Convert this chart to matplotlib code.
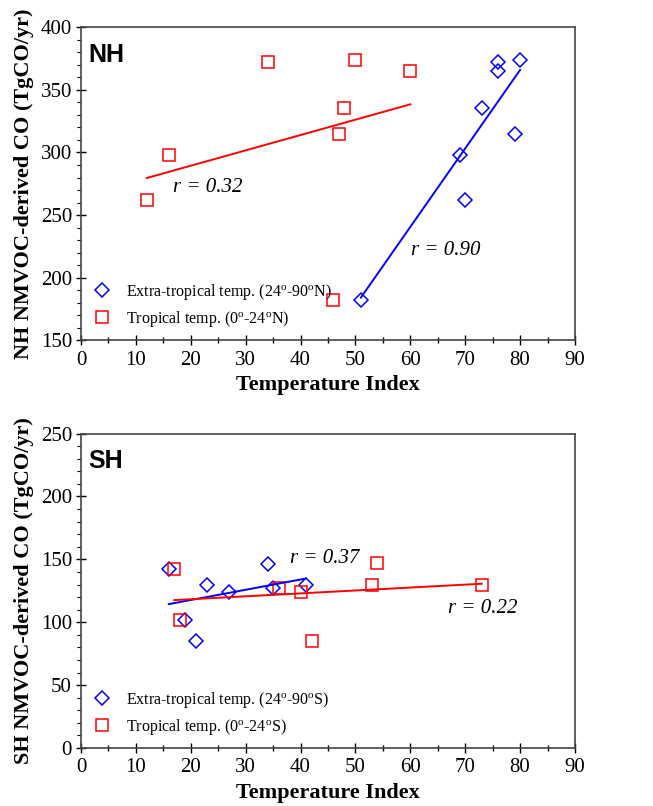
import numpy as np
import matplotlib.pyplot as plt
from matplotlib.ticker import MultipleLocator

# NH data
nh_extra_x = [51, 69, 70, 73, 76, 76, 80, 79]
nh_extra_y = [182, 298, 262, 335.5, 372, 365, 374, 314.5]
nh_trop_x = [12, 16, 34, 50, 60, 48, 47, 46]
nh_trop_y = [262, 298, 372, 374, 365, 335.5, 314.5, 182]
# fitted lines (endpoints)
nh_extra_fit_x = [51, 80]
nh_extra_fit_y = [184, 366]
nh_trop_fit_x = [12, 60]
nh_trop_fit_y = [279.6, 338.5]

# SH data
sh_extra_x = [16, 19, 21, 23, 27, 34, 35, 41]
sh_extra_y = [142, 102, 85, 129.5, 124, 146.7, 127, 130]
sh_trop_x = [17, 18, 36, 40, 42, 53, 54, 73]
sh_trop_y = [142, 102, 127, 124, 85, 130, 147, 129.5]
sh_extra_fit_x = [16, 41]
sh_extra_fit_y = [114.4, 134.8]
sh_trop_fit_x = [17, 73]
sh_trop_fit_y = [117.6, 130.6]

serif = ["Liberation Serif", "DejaVu Serif"]
sans = ["Liberation Sans", "DejaVu Sans"]

plt.rcParams["font.family"] = serif
plt.rcParams["mathtext.fontset"] = "custom"
plt.rcParams["mathtext.rm"] = "Liberation Serif"
plt.rcParams["mathtext.it"] = "Liberation Serif:italic"

fig = plt.figure(figsize=(6.53, 8.06), dpi=100)
ax1 = fig.add_axes([0.124, 0.578, 0.7565, 0.388])
ax2 = fig.add_axes([0.124, 0.072, 0.7565, 0.390])


def style_axes(ax, ylim, ylabel, tag):
    ax.set_xlim(0, 90)
    ax.set_ylim(*ylim)
    ax.xaxis.set_major_locator(MultipleLocator(10))
    ax.xaxis.set_minor_locator(MultipleLocator(5))
    ax.yaxis.set_major_locator(MultipleLocator(50))
    ax.yaxis.set_minor_locator(MultipleLocator(10))
    ax.tick_params(axis="x", which="major", direction="inout", length=7, width=1, labelsize=15, pad=4)
    ax.tick_params(axis="x", which="minor", direction="inout", length=5, width=1)
    ax.tick_params(axis="y", which="major", direction="inout", length=7, width=1, labelsize=15, pad=3)
    ax.tick_params(axis="y", which="minor", direction="out", length=3, width=0.8)
    for s in ax.spines.values():
        s.set_color("#444444")
        s.set_linewidth(1.2)
    ax.set_xlabel("Temperature Index", fontsize=16, fontweight="bold", labelpad=4)
    ax.set_ylabel(ylabel, fontsize=16, fontweight="bold", labelpad=5)
    ax.text(0.015, 0.95, tag, transform=ax.transAxes, family=sans, fontsize=18,
            fontweight="bold", va="top", ha="left")


leg_kw = dict(loc="lower left", frameon=False, prop={"size": 11.5},
              handletextpad=0.9, labelspacing=0.45, borderaxespad=0.3, handlelength=1.2)

# NH panel
ax1.plot(nh_extra_x, nh_extra_y, ls="none", marker="D", ms=7, mfc="none", mec="blue", mew=1.1,
         label="Extra-tropical temp. (24$^\\mathrm{o}$-90$^\\mathrm{o}$N)")
ax1.plot(nh_trop_x, nh_trop_y, ls="none", marker="s", ms=8, mfc="none", mec="red", mew=1.1,
         label="Tropical temp. (0$^\\mathrm{o}$-24$^\\mathrm{o}$N)")
ax1.plot(nh_extra_fit_x, nh_extra_fit_y, color="blue", lw=1.4)
ax1.plot(nh_trop_fit_x, nh_trop_fit_y, color="red", lw=1.4)
ax1.text(16.8, 272, "r = 0.32", style="italic", fontsize=15, va="center")
ax1.text(60.2, 222, "r = 0.90", style="italic", fontsize=15, va="center")
style_axes(ax1, (150, 400), "NH NMVOC-derived CO (TgCO/yr)", "NH")
ax1.legend(**leg_kw)

# SH panel
ax2.plot(sh_extra_x, sh_extra_y, ls="none", marker="D", ms=7, mfc="none", mec="blue", mew=1.1,
         label="Extra-tropical temp. (24$^\\mathrm{o}$-90$^\\mathrm{o}$S)")
ax2.plot(sh_trop_x, sh_trop_y, ls="none", marker="s", ms=8, mfc="none", mec="red", mew=1.1,
         label="Tropical temp. (0$^\\mathrm{o}$-24$^\\mathrm{o}$S)")
ax2.plot(sh_extra_fit_x, sh_extra_fit_y, color="blue", lw=1.4)
ax2.plot(sh_trop_fit_x, sh_trop_fit_y, color="red", lw=1.4)
ax2.text(38, 151, "r = 0.37", style="italic", fontsize=15, va="center")
ax2.text(66.9, 111, "r = 0.22", style="italic", fontsize=15, va="center")
style_axes(ax2, (0, 250), "SH NMVOC-derived CO (TgCO/yr)", "SH")
ax2.legend(**leg_kw)

fig.savefig("out.png", dpi=100)
